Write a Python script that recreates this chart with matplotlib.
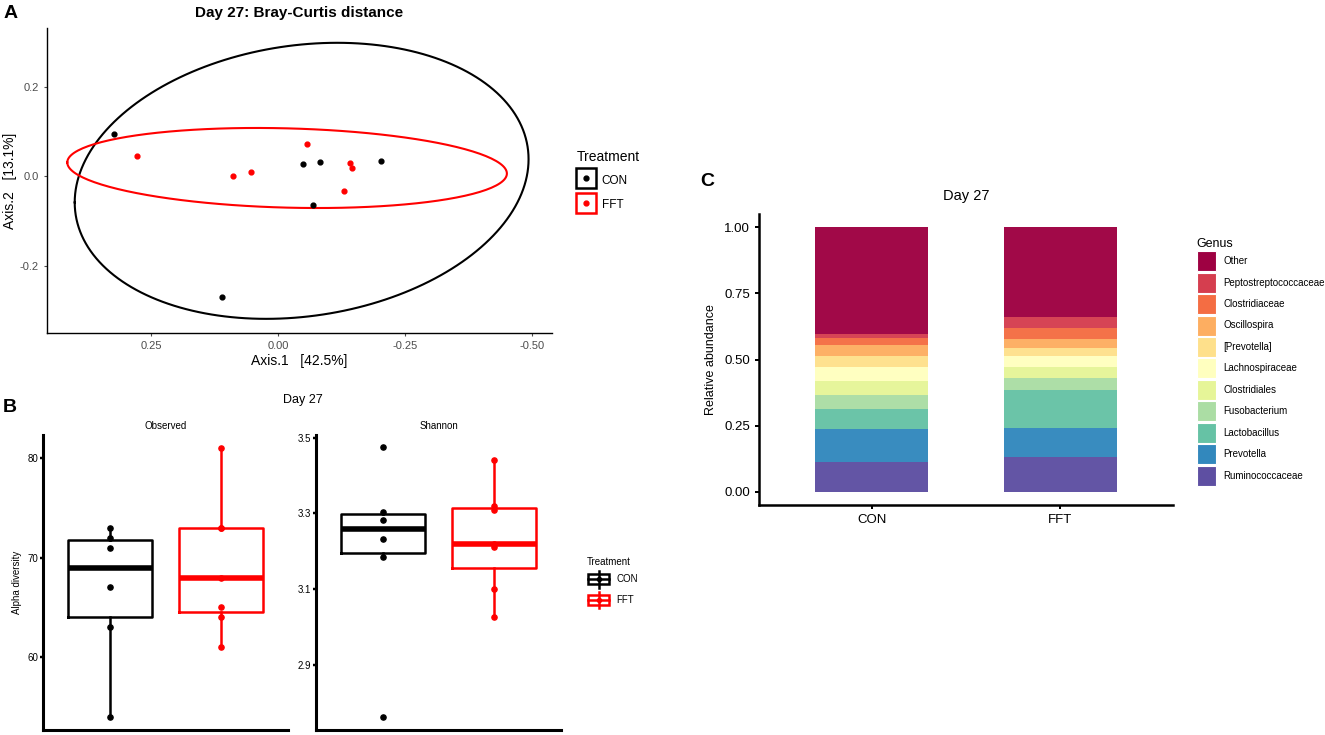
import numpy as np
import matplotlib
matplotlib.use("Agg")
import matplotlib.pyplot as plt
from matplotlib.lines import Line2D
from matplotlib.patches import Patch, Rectangle
from matplotlib.legend_handler import HandlerBase

plt.rcParams['font.family'] = ['Liberation Sans', 'DejaVu Sans']

# ---- data: panel A (PCoA, Bray-Curtis) ----
groups = ["CON", "FFT"]
group_colors = {"CON": "black", "FFT": "red"}
pcoa_con_x = [0.323, -0.048, -0.083, -0.203, -0.068, 0.111]
pcoa_con_y = [0.095, 0.028, 0.032, 0.034, -0.063, -0.270]
pcoa_fft_x = [0.278, -0.056, 0.089, 0.054, -0.142, -0.146, -0.129]
pcoa_fft_y = [0.046, 0.072, 0.000, 0.010, 0.030, 0.020, -0.032]

# ---- data: panel B (alpha diversity) ----
observed_con = [54, 63, 67, 71, 72, 73]
observed_fft = [61, 64, 65, 68, 73, 73, 81]
shannon_con = [2.763, 3.184, 3.232, 3.283, 3.304, 3.474]
shannon_fft = [3.027, 3.100, 3.210, 3.218, 3.310, 3.320, 3.440]

# ---- data: panel C (relative abundance, bottom to top) ----
genera = ["Ruminococcaceae", "Prevotella", "Lactobacillus", "Fusobacterium",
          "Clostridiales", "Lachnospiraceae", "[Prevotella]", "Oscillospira",
          "Clostridiaceae", "Peptostreptococcaceae", "Other"]
abund_con = [0.114, 0.124, 0.076, 0.053, 0.050, 0.053, 0.045, 0.040, 0.028, 0.015, 0.402]
abund_fft = [0.130, 0.110, 0.145, 0.045, 0.043, 0.042, 0.030, 0.031, 0.044, 0.041, 0.339]
genus_colors = ["#5E4FA2", "#3288BD", "#66C2A5", "#ABDDA4", "#E6F598", "#FFFFBF",
                "#FEE08B", "#FDAE61", "#F46D43", "#D53E4F", "#9E0142"]

W, H = 1325, 735
fig = plt.figure(figsize=(W / 100, H / 100), dpi=100)


def ax_px(l, t, r, b):
    return fig.add_axes([l / W, 1 - b / H, (r - l) / W, (b - t) / H])


def fx(x):
    return x / W


def fy(y):
    return 1 - y / H


def trob(xy, nu=5, tol=0.01, maxit=25):
    # robust multivariate t fit, like MASS::cov.trob
    n, p = xy.shape
    loc = xy.mean(axis=0)
    w = np.ones(n)
    for _ in range(maxit):
        w0 = w
        X = xy - loc
        _, d, vt = np.linalg.svd(np.sqrt(w / w.sum())[:, None] * X, full_matrices=False)
        wX = X @ vt.T @ np.diag(1 / d)
        Q = (wX ** 2).sum(axis=1)
        w = (nu + p) / (nu + Q)
        loc = (w[:, None] * xy).sum(axis=0) / w.sum()
        if np.all(np.abs(w - w0) < tol):
            break
    sw = np.sqrt(w)[:, None] * X
    return loc, sw.T @ sw / n


def ellipse_pts(x, y, level=0.95, segments=200):
    xy = np.column_stack([x, y])
    n = len(x)
    center, shape = trob(xy)
    dfd = n - 1
    qf = dfd / 2 * ((1 - level) ** (-2 / dfd) - 1)  # F quantile for dfn = 2
    radius = np.sqrt(2 * qf)
    t = np.linspace(0, 2 * np.pi, segments + 1)
    circle = np.column_stack([np.cos(t), np.sin(t)])
    L = np.linalg.cholesky(shape)
    return center + radius * circle @ L.T


def clean_axes(ax, lw, tick_color):
    for s in ["top", "right"]:
        ax.spines[s].set_visible(False)
    for s in ["left", "bottom"]:
        ax.spines[s].set_linewidth(lw)
        ax.spines[s].set_color("black")
    ax.tick_params(colors=tick_color, width=lw * 0.8, length=3)


# ================= Panel A =================
axA = ax_px(47, 28, 552, 333)
for g, xs, ys in [("CON", pcoa_con_x, pcoa_con_y), ("FFT", pcoa_fft_x, pcoa_fft_y)]:
    e = ellipse_pts(np.array(xs), np.array(ys))
    axA.plot(e[:, 0], e[:, 1], color=group_colors[g], lw=1.5)
    axA.scatter(xs, ys, s=12, color=group_colors[g], zorder=3)
axA.set_xlim(0.455, -0.539)
axA.set_ylim(-0.350, 0.332)
axA.set_xticks([0.25, 0.0, -0.25, -0.50])
axA.set_xticklabels(["0.25", "0.00", "-0.25", "-0.50"])
axA.set_yticks([0.2, 0.0, -0.2])
axA.set_yticklabels(["0.2", "0.0", "-0.2"])
clean_axes(axA, 1.0, "#4D4D4D")
axA.tick_params(labelsize=8, labelcolor="#4D4D4D", length=2.5)
axA.set_xlabel("Axis.1   [42.5%]", fontsize=10, labelpad=2)
axA.set_ylabel("Axis.2   [13.1%]", fontsize=10, labelpad=2)
axA.set_title("Day 27: Bray-Curtis distance", fontsize=11, fontweight="bold", pad=8)

handlesA = [(Line2D([], [], ls="none", marker="s", markersize=14, markerfacecolor="none",
                    markeredgecolor=group_colors[g], markeredgewidth=1.8),
             Line2D([], [], ls="none", marker="o", markersize=3.5, color=group_colors[g]))
            for g in groups]
legA = fig.legend(handlesA, groups, title="Treatment", loc="upper left",
                  bbox_to_anchor=(fx(571), fy(144)), frameon=False, fontsize=8.5,
                  title_fontsize=10, handlelength=1.6, handleheight=1.6,
                  handletextpad=0.5, labelspacing=0.75, borderpad=0)
legA._legend_box.align = "left"

# ================= Panel B =================
class BoxKey(HandlerBase):
    def create_artists(self, legend, orig_handle, xdescent, ydescent, width, height,
                       fontsize, trans):
        c = orig_handle.get_color()
        cx = width / 2 - xdescent
        cy = height / 2 - ydescent
        bw, bh = width * 0.9, height * 0.62
        rect = Rectangle((cx - bw / 2, cy - bh / 2), bw, bh, fill=False,
                         edgecolor=c, lw=1.8, transform=trans)
        med = Line2D([cx - bw / 2, cx + bw / 2], [cy, cy], color=c, lw=1.8, transform=trans)
        wh = Line2D([cx, cx], [cy - height * 0.5, cy + height * 0.5], color=c, lw=1.8,
                    transform=trans)
        dot = Line2D([cx], [cy], marker="o", markersize=3, color=c, transform=trans)
        return [wh, rect, med, dot]


def box_panel(ax, data, ylim, yticks, yticklabels):
    for i, (g, vals) in enumerate(zip(groups, data)):
        c = group_colors[g]
        ax.boxplot([vals], positions=[i + 1], widths=0.75, whis=1.5, showfliers=False,
                   showcaps=False, patch_artist=False,
                   boxprops=dict(color=c, lw=1.8),
                   whiskerprops=dict(color=c, lw=1.8),
                   medianprops=dict(color=c, lw=4, solid_capstyle="butt"))
        ax.scatter([i + 1] * len(vals), vals, s=14, color=c, zorder=3)
    ax.set_xlim(0.4, 2.6)
    ax.set_ylim(*ylim)
    ax.set_xticks([])
    ax.set_yticks(yticks)
    ax.set_yticklabels(yticklabels)
    clean_axes(ax, 2.2, "black")
    ax.tick_params(axis="y", labelsize=7, length=2.5, pad=1)


axB1 = ax_px(43, 435, 288, 730)
box_panel(axB1, [observed_con, observed_fft], (52.65, 82.35), [60, 70, 80], ["60", "70", "80"])
axB1.set_ylabel("Alpha diversity", fontsize=7, labelpad=4)
axB1.set_title("Observed", fontsize=7, pad=4)

axB2 = ax_px(316, 435, 561, 730)
box_panel(axB2, [shannon_con, shannon_fft], (2.728, 3.507), [2.9, 3.1, 3.3, 3.5],
          ["2.9", "3.1", "3.3", "3.5"])
axB2.set_title("Shannon", fontsize=7, pad=4)

fig.text(fx(303), fy(400), "Day 27", fontsize=9, ha="center", va="center")

handlesB = [Line2D([], [], color=group_colors[g]) for g in groups]
legB = fig.legend(handlesB, groups, title="Treatment", loc="upper left",
                  bbox_to_anchor=(fx(582), fy(552)), frameon=False, fontsize=7,
                  title_fontsize=7, handlelength=2.4, handleheight=2.3,
                  handletextpad=0.6, labelspacing=0.4, borderpad=0,
                  handler_map={Line2D: BoxKey()})
legB._legend_box.align = "left"

# ================= Panel C =================
axC = ax_px(759, 214, 1173, 505)
bottoms = [0.0, 0.0]
for gname, col, vc, vf in zip(genera, genus_colors, abund_con, abund_fft):
    axC.bar([1, 2], [vc, vf], bottom=bottoms, width=0.6, color=col, alpha=0.97,
            edgecolor="none", label=gname)
    bottoms = [bottoms[0] + vc, bottoms[1] + vf]
axC.set_xlim(0.4, 2.6)
axC.set_ylim(-0.05, 1.05)
axC.set_xticks([1, 2])
axC.set_xticklabels(groups)
axC.set_yticks([0, 0.25, 0.5, 0.75, 1.0])
axC.set_yticklabels(["0.00", "0.25", "0.50", "0.75", "1.00"])
clean_axes(axC, 1.8, "black")
axC.tick_params(labelsize=9.5, length=3)
axC.set_ylabel("Relative abundance", fontsize=9, labelpad=5)
axC.set_title("Day 27", fontsize=10.5, pad=10)

handlesC = [Patch(facecolor=c, edgecolor="white", lw=0.8) for c in genus_colors[::-1]]
legC = fig.legend(handlesC, genera[::-1], title="Genus", loc="upper left",
                  bbox_to_anchor=(fx(1192), fy(233)), frameon=False, fontsize=7,
                  title_fontsize=9, handlelength=2.0, handleheight=2.8,
                  handletextpad=0.7, labelspacing=0.14, borderpad=0)
legC._legend_box.align = "left"

# panel letters
fig.text(fx(4), fy(13), "A", fontsize=14, fontweight="bold", va="center")
fig.text(fx(3), fy(407), "B", fontsize=14, fontweight="bold", va="center")
fig.text(fx(700), fy(182), "C", fontsize=14, fontweight="bold", va="center")

fig.savefig("out.png", dpi=100)
